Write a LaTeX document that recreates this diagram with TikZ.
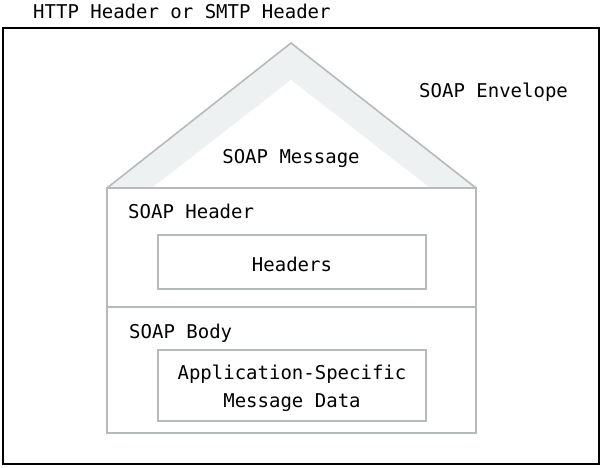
\documentclass[tikz,border=0pt]{standalone}
\usepackage{fontspec}
\setmonofont{DejaVu Sans Mono}
\usetikzlibrary{positioning}
\definecolor{rim}{HTML}{B6BABC}
\definecolor{band}{HTML}{EEF1F2}
\tikzset{
  lbl/.style={inner sep=0pt, font=\ttfamily\fontsize{19}{28}\selectfont},
  part/.style={draw=rim, line width=1.6pt}
}

\begin{document}
\begin{tikzpicture}[x=1pt, y=-1pt]
    % Background
    \useasboundingbox (0,0) rectangle (604,467);
    \draw[line width=2pt] (3,28) rectangle (599,464);
    \node[lbl, anchor=base west] (http) at (33,18) {HTTP Header or SMTP Header};
    \node[lbl, anchor=base west] (env) at (419,97) {SOAP Envelope};

    % Roof
    \fill[band] (107,188) -- (291,43) -- (476,188) -- cycle;
    \fill[white] (152,188) -- (291,80) -- (430,188) -- cycle;
    \draw[part, line join=miter] (107,188) -- (291,43) -- (476,188);
    \node[lbl, anchor=base] (msg) at (291,163) {SOAP Message};

    % Header and body
    \draw[part] (107,188) rectangle (476,433);
    \draw[part] (107,307) -- (476,307);
    \node[lbl, anchor=base west] (hdr) at (128,218) {SOAP Header};
    \draw[part] (158,235) rectangle (426,289);
    \node[lbl, anchor=base] (hdrs) at (292,271) {Headers};

    \node[lbl, anchor=base west] (body) at (129,338) {SOAP Body};
    \draw[part] (158,350) rectangle (426,421);
    \node[lbl, align=center, anchor=base] (data) at (292,407) {Application-Specific\\Message Data};

  \end{tikzpicture}
\end{document}
